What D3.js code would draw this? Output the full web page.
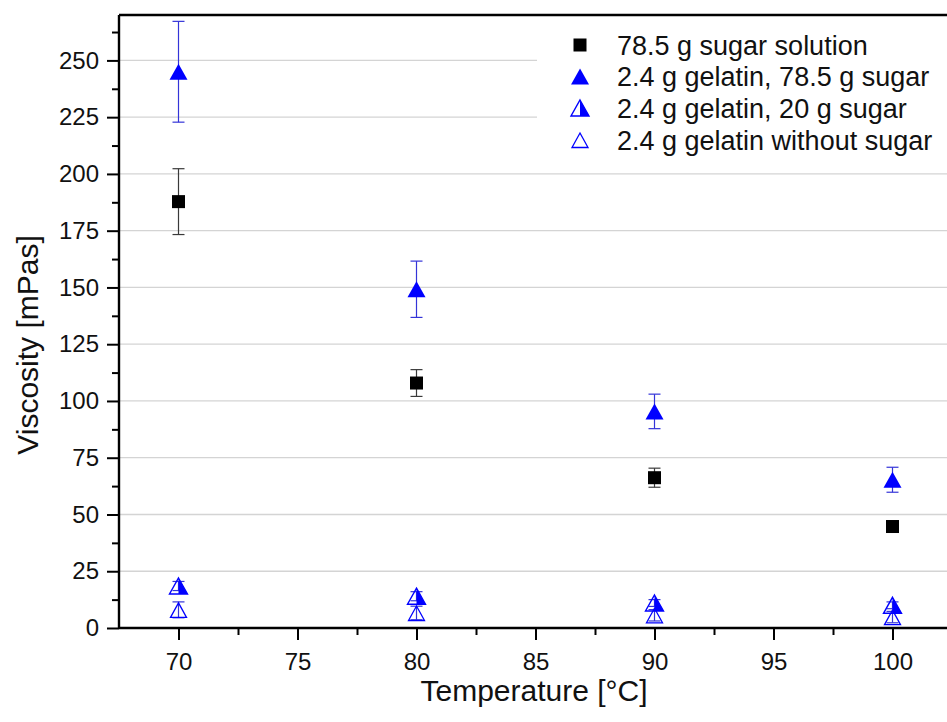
<!DOCTYPE html>
<html>
<head>
<meta charset="utf-8">
<script src="https://cdn.jsdelivr.net/npm/d3@7"></script>
<style>
  html, body { margin: 0; padding: 0; background: #fff; }
  svg { display: block; font-family: "Liberation Sans", Arial, sans-serif; }
</style>
</head>
<body>
<svg id="chart" width="947" height="722"></svg>
<script>
// Temperatures (°C) at which viscosity was measured
const temperatures = [70, 80, 90, 100];

// Series labels (legend order)
const seriesNames = [
  "78.5 g sugar solution",
  "2.4 g gelatin, 78.5 g sugar",
  "2.4 g gelatin, 20 g sugar",
  "2.4 g gelatin without sugar"
];

// Mean viscosity (mPas) per series
const sugarSolution      = [187.8, 107.9, 66.2, 44.7];
const gelatinSugar785    = [245.0, 149.2, 95.4, 65.3];
const gelatinSugar20     = [18.5, 14.0, 11.0, 10.0];
const gelatinNoSugar     = [8.0, 6.6, 5.6, 4.8];

// Standard deviations (mPas)
const sugarSolutionErr   = [14.5, 5.9, 4.2, 2.0];
const gelatinSugar785Err = [22.2, 12.4, 7.6, 5.5];
const gelatinSugar20Err  = [2.0, 2.0, 1.5, 1.5];
const gelatinNoSugarErr  = [3.5, 3.0, 2.5, 2.5];

// Axis ticks
const xMajorTicks = [70, 75, 80, 85, 90, 95, 100];
const xMinorTicks = [72.5, 77.5, 82.5, 87.5, 92.5, 97.5, 102.5];
const yMajorTicks = [0, 25, 50, 75, 100, 125, 150, 175, 200, 225, 250];
const yMinorTicks = [12.5, 37.5, 62.5, 87.5, 112.5, 137.5, 162.5, 187.5, 212.5, 237.5, 262.5];

const svg = d3.select("#chart");

const plotLeft = 119, plotRight = 952, plotTop = 15, plotBottom = 628;
const x = d3.scaleLinear().domain([67.5, 102.5]).range([plotLeft, plotRight]);
const y = d3.scaleLinear().domain([0, 270]).range([plotBottom, plotTop]);

const BLUE = "#0000ff";

// Horizontal grid lines
svg.append("g").selectAll("line")
  .data(yMajorTicks.filter(v => v > 0))
  .join("line")
  .attr("x1", plotLeft).attr("x2", plotRight)
  .attr("y1", d => y(d)).attr("y2", d => y(d))
  .attr("stroke", "#d4d4d4").attr("stroke-width", 1.3);

// Build series records
const series = [
  { name: seriesNames[0], values: sugarSolution,   errs: sugarSolutionErr,   kind: "square", errColor: "#3a3a3a" },
  { name: seriesNames[1], values: gelatinSugar785, errs: gelatinSugar785Err, kind: "tri",    errColor: "#3434d8" },
  { name: seriesNames[2], values: gelatinSugar20,  errs: gelatinSugar20Err,  kind: "half",   errColor: "#3434d8" },
  { name: seriesNames[3], values: gelatinNoSugar,  errs: gelatinNoSugarErr,  kind: "open",   errColor: "#3434d8" }
];

// Marker drawing helpers
function drawMarker(g, kind, cx, cy) {
  if (kind === "square") {
    const s = 13;
    g.append("rect").attr("x", cx - s / 2).attr("y", cy - s / 2)
      .attr("width", s).attr("height", s).attr("fill", "#000");
    return;
  }
  const w = 18, h = 16;
  const apex = [cx, cy - h / 2], bl = [cx - w / 2, cy + h / 2], br = [cx + w / 2, cy + h / 2];
  const tri = `M${apex}L${br}L${bl}Z`;
  if (kind === "tri") {
    g.append("path").attr("d", tri).attr("fill", BLUE);
  } else if (kind === "half") {
    g.append("path").attr("d", `M${apex}L${br}L${[cx, cy + h / 2]}Z`).attr("fill", BLUE);
    g.append("path").attr("d", tri).attr("fill", "none").attr("stroke", BLUE).attr("stroke-width", 1.4)
      .attr("stroke-linejoin", "miter");
  } else {
    g.append("path").attr("d", `M${[cx, cy - h / 2 + 1]}L${[cx + w / 2 - 1, cy + h / 2 - 0.5]}L${[cx - w / 2 + 1, cy + h / 2 - 0.5]}Z`)
      .attr("fill", "none").attr("stroke", BLUE).attr("stroke-width", 1.3);
  }
}

// Error bars (drawn beneath markers)
const errG = svg.append("g");
series.forEach(s => {
  s.values.forEach((v, i) => {
    const cx = x(temperatures[i]);
    const y0 = y(v - s.errs[i]), y1 = y(v + s.errs[i]);
    const cap = 6;
    errG.append("line").attr("x1", cx).attr("x2", cx).attr("y1", y0).attr("y2", y1)
      .attr("stroke", s.errColor).attr("stroke-width", 1.2);
    [y0, y1].forEach(yy => errG.append("line")
      .attr("x1", cx - cap).attr("x2", cx + cap).attr("y1", yy).attr("y2", yy)
      .attr("stroke", s.errColor).attr("stroke-width", 1.2));
  });
});

// Markers
const markG = svg.append("g");
series.forEach(s => {
  s.values.forEach((v, i) => drawMarker(markG, s.kind, x(temperatures[i]), y(v)));
});

// Legend with white background
const legend = svg.append("g");
legend.append("rect").attr("x", 537).attr("y", plotTop + 1.5).attr("width", 420).attr("height", 148)
  .attr("fill", "#fff");
const legendRowY = [45, 76.5, 108, 140];
series.forEach((s, i) => {
  drawMarker(legend, s.kind, 580, legendRowY[i]);
  legend.append("text").attr("x", 617).attr("y", legendRowY[i])
    .attr("dy", "0.36em").attr("font-size", 27).attr("fill", "#111").text(s.name);
});

// Axes
svg.append("g").attr("transform", `translate(0,${plotBottom})`)
  .call(d3.axisBottom(x).tickValues(xMajorTicks).tickSize(12).tickPadding(13).tickFormat(d3.format("d")));
svg.append("g").attr("transform", `translate(0,${plotBottom})`)
  .call(d3.axisBottom(x).tickValues(xMinorTicks).tickSize(7).tickFormat(""));
svg.append("g").attr("transform", `translate(${plotLeft},0)`)
  .call(d3.axisLeft(y).tickValues(yMajorTicks).tickSize(12).tickPadding(8).tickFormat(d3.format("d")));
svg.append("g").attr("transform", `translate(${plotLeft},0)`)
  .call(d3.axisLeft(y).tickValues(yMinorTicks).tickSize(7).tickFormat(""));

svg.selectAll(".tick line").attr("stroke", "#000").attr("stroke-width", 2);
svg.selectAll(".tick text").attr("font-size", 24).attr("fill", "#111")
  .attr("font-family", "Liberation Sans, Arial, sans-serif");
// Replace the axis domain paths with plain frame lines
svg.selectAll(".domain").remove();
svg.append("line").attr("x1", plotLeft).attr("x2", plotRight).attr("y1", plotBottom).attr("y2", plotBottom)
  .attr("stroke", "#000").attr("stroke-width", 2.4);
svg.append("line").attr("x1", plotLeft).attr("x2", plotLeft).attr("y1", plotTop).attr("y2", plotBottom + 1)
  .attr("stroke", "#000").attr("stroke-width", 2.4);
svg.append("line").attr("x1", plotLeft).attr("x2", plotRight).attr("y1", plotTop).attr("y2", plotTop)
  .attr("stroke", "#000").attr("stroke-width", 2.6);

// Axis titles
svg.append("text").attr("x", 534).attr("y", 701).attr("text-anchor", "middle")
  .attr("font-size", 30).attr("fill", "#111").text("Temperature [°C]");
svg.append("text").attr("transform", `translate(38,345) rotate(-90)`).attr("text-anchor", "middle")
  .attr("font-size", 30).attr("fill", "#111").text("Viscosity [mPas]");
</script>
</body>
</html>
